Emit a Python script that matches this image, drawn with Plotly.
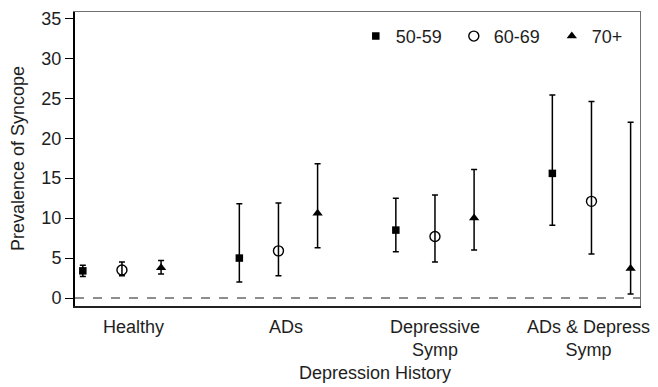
import plotly.graph_objects as go

categories = ["Healthy", "ADs", "Depressive<br>Symp", "ADs & Depress<br>Symp"]
age_groups = ["50-59", "60-69", "70+"]

# prevalence estimates and 95% CI per age group (order: categories)
mean_5059 = [3.4, 5.0, 8.5, 15.6]
upper_5059 = [4.1, 11.8, 12.5, 25.4]
lower_5059 = [2.7, 2.0, 5.8, 9.1]

mean_6069 = [3.5, 5.9, 7.7, 12.1]
upper_6069 = [4.5, 11.9, 12.9, 24.6]
lower_6069 = [2.8, 2.8, 4.5, 5.5]

mean_70 = [3.8, 10.6, 10.0, 3.7]
upper_70 = [4.7, 16.8, 16.1, 22.0]
lower_70 = [3.0, 6.3, 6.0, 0.5]

y_ticks = [0, 5, 10, 15, 20, 25, 30, 35]

FONT = "Liberation Sans, Arial, sans-serif"
TXT = "#1e1e1e"
X_RANGE = [-0.3, 3.31]
Y_RANGE = [-1, 35.8]

series = [
    (age_groups[0], mean_5059, upper_5059, lower_5059, -0.25,
     dict(symbol="square", size=7.5, color="black")),
    (age_groups[1], mean_6069, upper_6069, lower_6069, 0.0,
     dict(symbol="circle-open", size=10, color="black", line=dict(width=1.4, color="black"))),
    (age_groups[2], mean_70, upper_70, lower_70, 0.25,
     dict(symbol="triangle-up", size=9, color="black")),
]

fig = go.Figure()
# empty trace on overlay axes that draw the thin grey top/right frame
fig.add_trace(go.Scatter(x=[], y=[], xaxis="x2", yaxis="y2", showlegend=False,
                         hoverinfo="skip"))
for name, m, up, lo, off, mk in series:
    xs = [i + off for i in range(len(categories))]
    fig.add_trace(go.Scatter(
        x=xs, y=m, mode="markers", name=name, marker=mk,
        error_y=dict(type="data", symmetric=False,
                     array=[u - v for u, v in zip(up, m)],
                     arrayminus=[v - l for v, l in zip(m, lo)],
                     color="black", thickness=1.5, width=3),
    ))

fig.add_shape(type="line", xref="paper", yref="y", x0=0, x1=1, y0=0, y1=0,
              line=dict(color="#6a6a6a", width=1.3, dash="dash"))

# category labels (slight offsets as in the original figure)
label_shift = [12, 8, 0, -3]
for i, (lab, sh) in enumerate(zip(categories, label_shift)):
    fig.add_annotation(x=i, xref="x", y=0, yref="paper", yanchor="top", yshift=-9,
                       xshift=sh, text=lab, showarrow=False, align="center",
                       font=dict(family=FONT, size=18, color=TXT))

fig.add_annotation(x=(375 - 75) / 565, xref="paper", y=-(373 - 306) / 294, yref="paper",
                   text="Depression History", showarrow=False, xanchor="center",
                   yanchor="middle", font=dict(family=FONT, size=18, color=TXT))
fig.add_annotation(x=-(75 - 18) / 565, xref="paper", y=0.5, yref="paper",
                   text="Prevalence of Syncope", showarrow=False, textangle=-90,
                   xanchor="center", yanchor="middle",
                   font=dict(family=FONT, size=18, color=TXT))

fig.update_layout(
    width=650, height=379,
    margin=dict(l=67, r=18, t=4, b=81),
    plot_bgcolor="white", paper_bgcolor="white",
    font=dict(family=FONT, size=18, color=TXT),
    showlegend=True,
    legend=dict(orientation="h", x=0.497, xanchor="left", y=0.98, yanchor="top",
                bgcolor="rgba(0,0,0,0)", font=dict(size=18, family=FONT, color=TXT),
                itemwidth=30, entrywidth=53, entrywidthmode="pixels"),
    xaxis=dict(range=X_RANGE, tickvals=list(range(len(categories))),
               showticklabels=False, automargin=False,
               showgrid=False, zeroline=False, showline=True, linecolor="#222222", linewidth=2,
               ticks=""),
    yaxis=dict(range=Y_RANGE, tickvals=y_ticks, showgrid=False, zeroline=False,
               automargin=False,
               showline=True, linecolor="black", linewidth=2, ticks="outside", ticklen=8,
               tickwidth=1.2, tickcolor="black", tickfont=dict(size=18, family=FONT, color=TXT)),
    xaxis2=dict(overlaying="x", side="top", range=X_RANGE, showline=True,
                linecolor="#707070", linewidth=1.2, showticklabels=False, ticks="",
                showgrid=False, zeroline=False, automargin=False),
    yaxis2=dict(overlaying="y", side="right", range=Y_RANGE, showline=True,
                linecolor="#707070", linewidth=1.2, showticklabels=False, ticks="",
                showgrid=False, zeroline=False, automargin=False),
)

fig.write_html("out.html")
